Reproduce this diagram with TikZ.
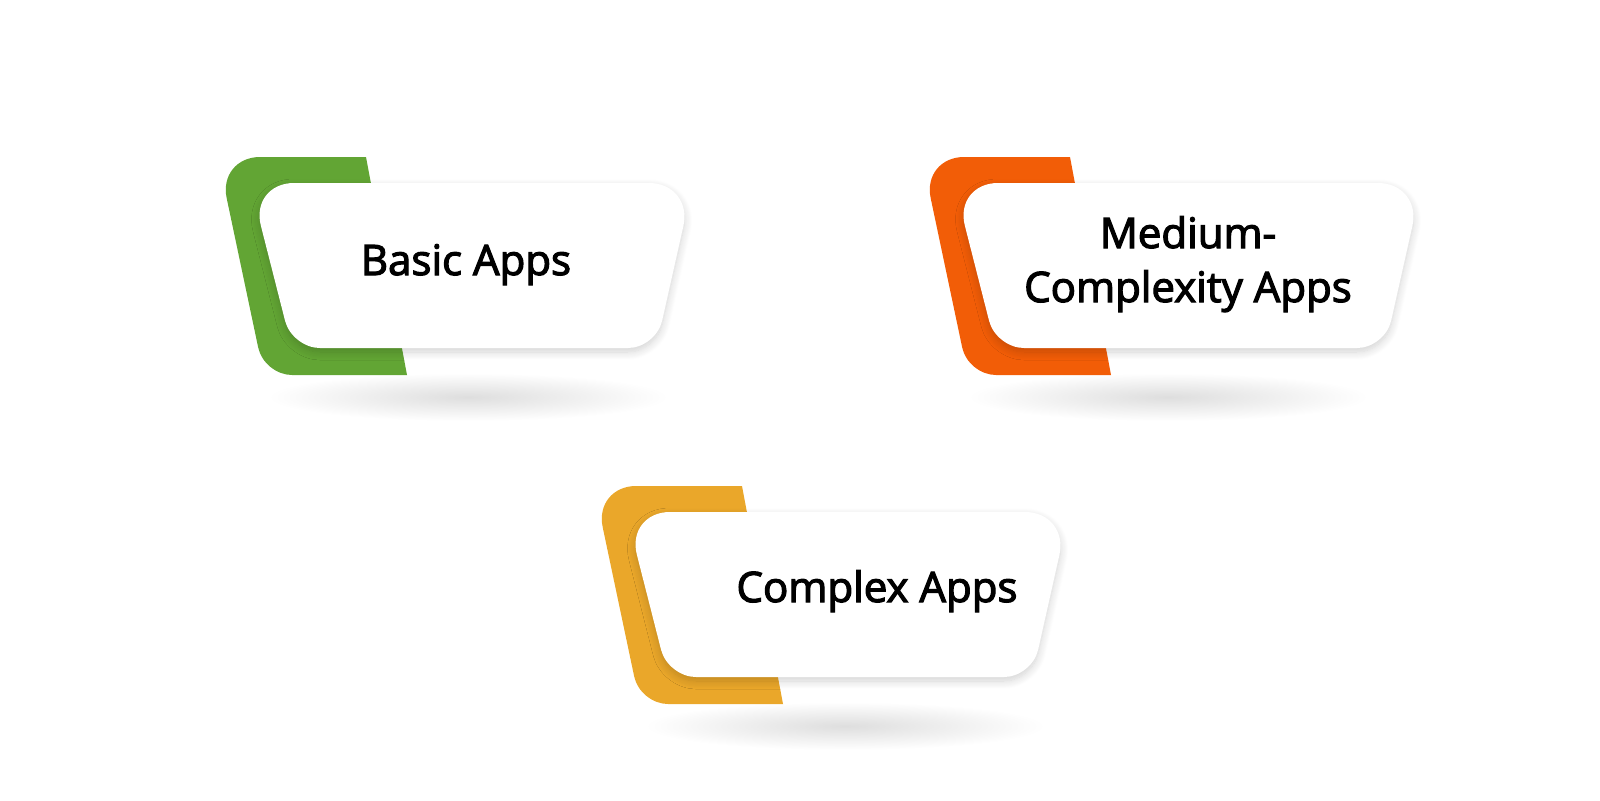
\documentclass[tikz,border=0pt]{standalone}
\usepackage{fontspec}
\newfontfamily\lblfont{Open Sans}[FakeBold=2.8]
\usetikzlibrary{shadows.blur}

\definecolor{basicgreen}{RGB}{98,165,52}
\definecolor{mediumorange}{RGB}{242,93,7}
\definecolor{complexyellow}{RGB}{234,167,42}

\begin{document}
\begin{tikzpicture}[x=0.5pt,y=-0.5pt]

\tikzset{
  tab/.style={
    draw=none,
  },
  card/.style={
    fill=white,
    blur shadow={shadow xshift=0pt, shadow yshift=-2pt,
      shadow blur steps=12, shadow blur radius=4pt, shadow opacity=18},
  },
  floor shadow/.style={
    inner color=black!13,
    outer color=white,
  },
  app label/.style={
    font=\lblfont\fontsize{21}{27}\selectfont,
    align=center,
    inner sep=0pt,
    anchor=base,
  }
}

\useasboundingbox (0,0) rectangle (1600,800);

% Basic apps
\shade[floor shadow] (468,397) ellipse (200 and 24);
\fill[tab,basicgreen] (366,157) [rounded corners=21pt] -- (218,157) [rounded corners=14pt] -- (264,375) [sharp corners] -- (407,375) -- cycle;
\path[card] (470,183) [rounded corners=22pt] -- (693,183) [rounded corners=14pt] -- (656,348) -- (292,348) [rounded corners=22pt] -- (250,183) -- cycle;
\node[app label] (basic) at (466,275) {Basic Apps};

% Medium-complexity apps
\shade[floor shadow] (1168,397) ellipse (200 and 24);
\fill[tab,mediumorange] (1070,157) [rounded corners=21pt] -- (922,157) [rounded corners=14pt] -- (968,375) [sharp corners] -- (1111,375) -- cycle;
\path[card] (1188,183) [rounded corners=22pt] -- (1422,183) [rounded corners=14pt] -- (1385,348) -- (996,348) [rounded corners=22pt] -- (954,183) -- cycle;
\node[app label] (medium) at (1188,302) {Medium-\\Complexity Apps};

% Complex apps
\shade[floor shadow] (845,726) ellipse (200 and 24);
\fill[tab,complexyellow] (742,486) [rounded corners=21pt] -- (594,486) [rounded corners=14pt] -- (640,704) [sharp corners] -- (783,704) -- cycle;
\path[card] (848,512) [rounded corners=22pt] -- (1069,512) [rounded corners=14pt] -- (1032,677) -- (668,677) [rounded corners=22pt] -- (626,512) -- cycle;
\node[app label] (complex) at (877,602) {Complex Apps};

\end{tikzpicture}
\end{document}
